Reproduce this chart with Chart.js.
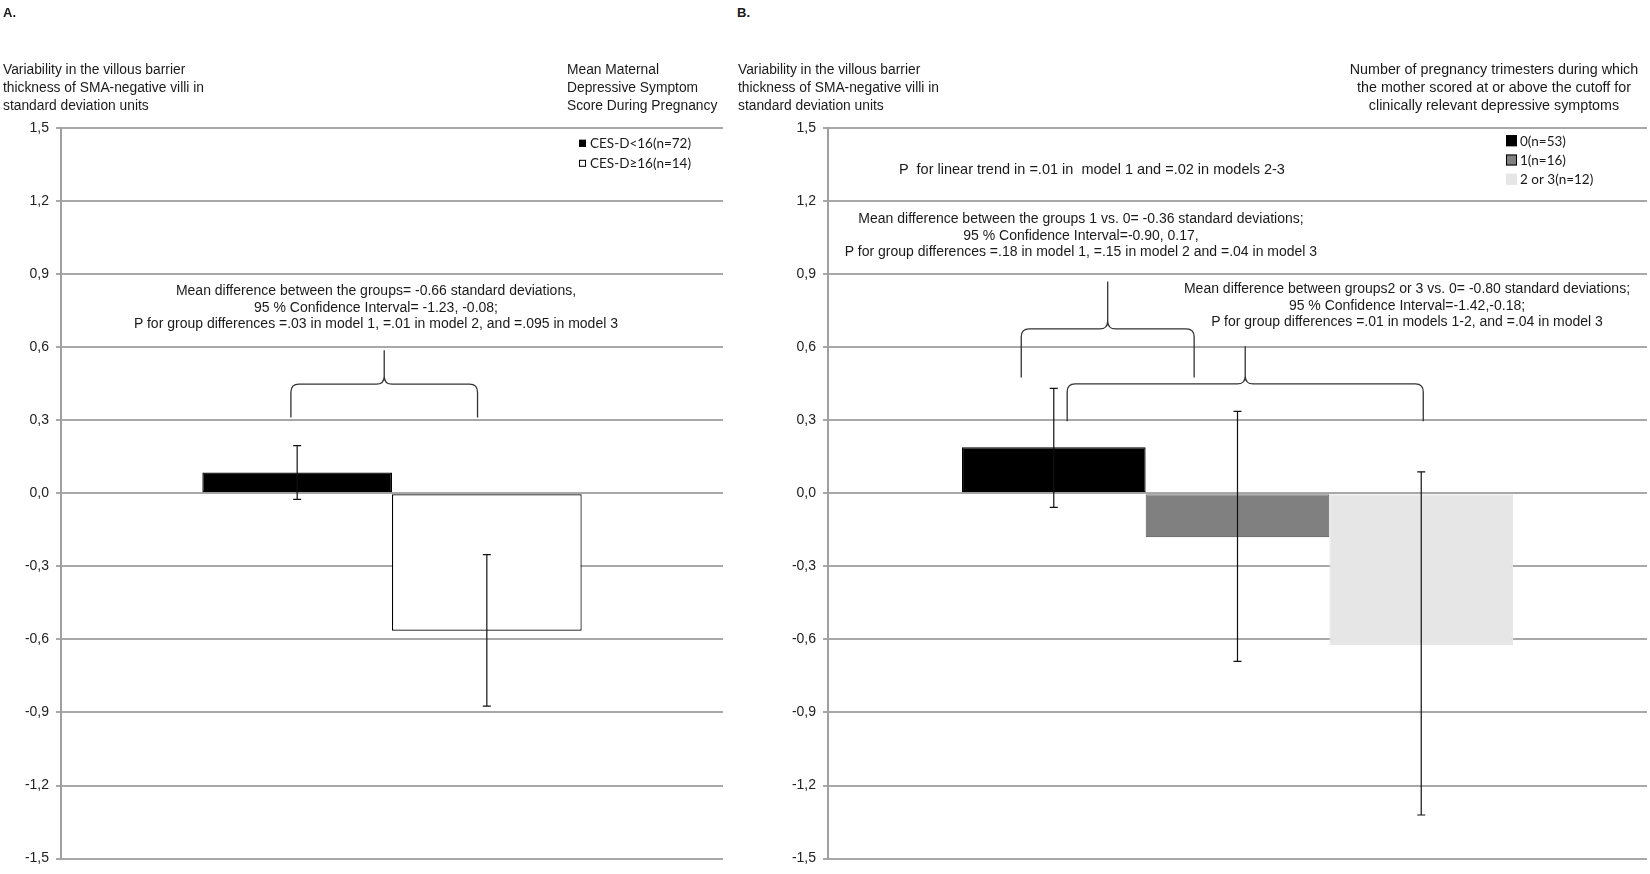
<!DOCTYPE html>
<html>
<head>
<meta charset="utf-8">
<script src="https://cdn.jsdelivr.net/npm/chart.js@4.4.1/dist/chart.umd.min.js"></script>
<style>
  body { margin: 0; background: #fff; width: 1650px; height: 874px; overflow: hidden; position: relative;
         font-family: "Liberation Sans", Arial, sans-serif; color: #1a1a1a; }
  .panel { position: absolute; top: 0; height: 874px; }
  .hdr { position: absolute; font-size: 13px; font-weight: bold; top: 5px; }
  .t { position: absolute; font-size: 13.8px; line-height: 17.8px; white-space: nowrap; }
  .note { position: absolute; font-size: 14px; line-height: 16.7px; text-align: center; white-space: pre; width: 700px; }
</style>
</head>
<body>
<div class="panel" style="left:0;width:725px"><canvas id="chartA"></canvas></div>
<div class="panel" style="left:767px;width:883px"><canvas id="chartB"></canvas></div>

<div class="hdr" style="left:3px">A.</div>
<div class="hdr" style="left:737px">B.</div>

<div class="t" style="left:3px;top:61px">Variability in the villous barrier<br>thickness of SMA-negative villi in<br>standard deviation units</div>
<div class="t" style="left:567px;top:61px">Mean Maternal<br>Depressive Symptom<br>Score During Pregnancy</div>
<div class="t" style="left:738px;top:61px">Variability in the villous barrier<br>thickness of SMA-negative villi in<br>standard deviation units</div>
<div class="t" style="left:1294px;top:61px;width:400px;text-align:center;font-size:14.3px">Number of pregnancy trimesters during which<br>the mother scored at or above the cutoff for<br>clinically relevant depressive symptoms</div>

<div class="note" style="left:26px;top:282px">Mean difference between the groups= -0.66 standard deviations,<br>95 % Confidence Interval= -1.23, -0.08;<br>P for group differences =.03 in model 1, =.01 in model 2, and =.095 in model 3</div>
<div class="note" style="left:742px;top:161px;font-size:14.5px">P  for linear trend in =.01 in  model 1 and =.02 in models 2-3</div>
<div class="note" style="left:731px;top:210px">Mean difference between the groups 1 vs. 0= -0.36 standard deviations;<br>95 % Confidence Interval=-0.90, 0.17,<br>P for group differences =.18 in model 1, =.15 in model 2 and =.04 in model 3</div>
<div class="note" style="left:1057px;top:280px">Mean difference between groups2 or 3 vs. 0= -0.80 standard deviations;<br>95 % Confidence Interval=-1.42,-0.18;<br>P for group differences =.01 in models 1-2, and =.04 in model 3</div>

<script>
// ---- data ----
const yTicks = [-1.5, -1.2, -0.9, -0.6, -0.3, 0, 0.3, 0.6, 0.9, 1.2, 1.5];

const groupsA = ['CES-D<16(n=72)', 'CES-D\u226516(n=14)'];
const meansA = [0.085, -0.564];
const ciLowA = [-0.025, -0.874];
const ciHighA = [0.196, -0.252];

const groupsB = ['0(n=53)', '1(n=16)', '2 or 3(n=12)'];
const meansB = [0.189, -0.18, -0.623];
const ciLowB = [-0.058, -0.69, -1.321];
const ciHighB = [0.431, 0.336, 0.088];

// ---- styles ----
const fillA = ['#000000', '#ffffff'];
const edgeA = ['#000000', '#000000'];
const fillB = ['#000000', '#808080', '#e6e6e6'];
const edgeB = ['#000000', '#707070', '#e6e6e6'];

Chart.defaults.font.family = '"Liberation Sans", Arial, sans-serif';
Chart.defaults.color = '#222';

function drawBrace(ctx, x1, x2, yBase, yMid, yTip, r) {
  const cx = (x1 + x2) / 2;
  ctx.beginPath();
  ctx.moveTo(x1, yBase);
  ctx.lineTo(x1, yMid + r);
  ctx.quadraticCurveTo(x1, yMid, x1 + r, yMid);
  ctx.lineTo(cx - r, yMid);
  ctx.quadraticCurveTo(cx, yMid, cx, yMid - r);
  ctx.lineTo(cx, yTip);
  ctx.moveTo(x2, yBase);
  ctx.lineTo(x2, yMid + r);
  ctx.quadraticCurveTo(x2, yMid, x2 - r, yMid);
  ctx.lineTo(cx + r, yMid);
  ctx.quadraticCurveTo(cx, yMid, cx, yMid - r);
  ctx.stroke();
}

const extras = {
  id: 'extras',
  afterDatasetsDraw(chart, args, opts) {
    const ctx = chart.ctx;
    const y = chart.scales.y;
    const area = chart.chartArea;
    const bars = chart.data.datasets.map((ds, i) => chart.getDatasetMeta(i).data[0]);
    ctx.save();

    // error bars
    ctx.strokeStyle = '#111';
    ctx.lineWidth = 1.2;
    bars.forEach((bar, i) => {
      const lo = y.getPixelForValue(opts.low[i]);
      const hi = y.getPixelForValue(opts.high[i]);
      ctx.beginPath();
      ctx.moveTo(bar.x, lo); ctx.lineTo(bar.x, hi);
      ctx.moveTo(bar.x - 4, lo); ctx.lineTo(bar.x + 4, lo);
      ctx.moveTo(bar.x - 4, hi); ctx.lineTo(bar.x + 4, hi);
      ctx.stroke();
    });

    // braces over the compared groups
    ctx.strokeStyle = '#333';
    ctx.lineWidth = 1.3;
    opts.braces.forEach(b => {
      const a = bars[b.from], c = bars[b.to];
      const x1 = a.x + b.offFrom * a.width;
      const x2 = c.x + b.offTo * c.width;
      drawBrace(ctx, x1, x2, y.getPixelForValue(b.base), y.getPixelForValue(b.mid), y.getPixelForValue(b.tip), 8);
    });

    // legend
    const lg = opts.legend;
    ctx.font = '13.5px Lato, "Liberation Sans", sans-serif';
    ctx.textBaseline = 'middle';
    ctx.textAlign = 'left';
    chart.data.datasets.forEach((ds, i) => {
      const bx = area.right + lg.dx;
      const by = area.top + lg.dy + i * lg.step;
      ctx.fillStyle = ds.backgroundColor;
      ctx.fillRect(bx, by - lg.box / 2, lg.box, lg.box);
      ctx.strokeStyle = ds.borderColor === '#e6e6e6' ? '#e6e6e6' : '#000';
      ctx.lineWidth = 1;
      ctx.strokeRect(bx + 0.5, by - lg.box / 2 + 0.5, lg.box - 1, lg.box - 1);
      ctx.fillStyle = '#1a1a1a';
      ctx.fillText(ds.label, bx + lg.box + lg.gap, by + 0.5);
    });
    ctx.restore();
  }
};

function makeChart(id, groups, means, low, high, fills, edges, catPct, padRight, braces, legend) {
  return new Chart(document.getElementById(id).getContext('2d'), {
    type: 'bar',
    data: {
      labels: [''],
      datasets: groups.map((g, i) => ({
        label: g,
        data: [means[i]],
        backgroundColor: fills[i],
        borderColor: edges[i],
        borderWidth: 1.2,
        borderSkipped: false
      }))
    },
    options: {
      responsive: true,
      maintainAspectRatio: false,
      animation: false,
      layout: { padding: { top: 128, bottom: 8, left: 0, right: padRight } },
      datasets: { bar: { categoryPercentage: catPct, barPercentage: 1 } },
      plugins: {
        legend: { display: false },
        tooltip: { enabled: false },
        extras: { low: low, high: high, braces: braces, legend: legend }
      },
      scales: {
        x: { display: false },
        y: {
          min: yTicks[0],
          max: yTicks[yTicks.length - 1],
          afterBuildTicks: s => { s.ticks = yTicks.map(v => ({ value: v })); },
          afterFit: s => { s.width = 61; },
          ticks: {
            callback: v => Number(v).toFixed(1).replace('.', ','),
            padding: 7,
            color: '#222',
            font: { size: 14 }
          },
          grid: { color: '#a8a8a8', lineWidth: 2, tickLength: 5 },
          border: { color: '#a0a0a0', width: 2 }
        }
      }
    },
    plugins: [extras]
  });
}

makeChart('chartA', groupsA, meansA, ciLowA, ciHighA, fillA, edgeA, 0.573, 2,
  [{ from: 0, to: 1, offFrom: -0.033, offTo: -0.049, base: 0.311, mid: 0.448, tip: 0.587 }],
  { dx: -144, dy: 15.3, step: 20, box: 7, gap: 4 });

makeChart('chartB', groupsB, meansB, ciLowB, ciHighB, fillB, edgeB, 0.673, 3,
  [{ from: 0, to: 1, offFrom: -0.177, offTo: -0.236, base: 0.476, mid: 0.675, tip: 0.87 },
   { from: 0, to: 2, offFrom: 0.073, offTo: 0.011, base: 0.296, mid: 0.449, tip: 0.604 }],
  { dx: -141, dy: 12.7, step: 19.3, box: 11, gap: 3 });
</script>
</body>
</html>
